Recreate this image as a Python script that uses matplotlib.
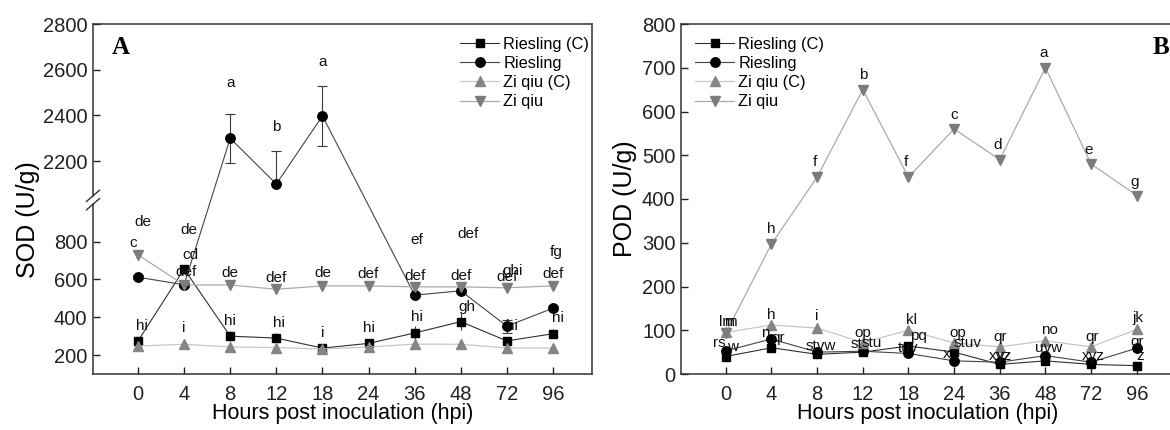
import numpy as np
import matplotlib
matplotlib.use("Agg")
import matplotlib.pyplot as plt
from matplotlib.lines import Line2D

plt.rcParams['font.family'] = ['Liberation Sans', 'DejaVu Sans']

# ---------------- data ----------------
hpi = ['0', '4', '8', '12', '18', '24', '36', '48', '72', '96']
series_names = ['Riesling (C)', 'Riesling', 'Zi qiu (C)', 'Zi qiu']

# Panel A: SOD (U/g)
sod_riesling_c = [275, 655, 300, 290, 237, 262, 317, 377, 275, 313]
sod_riesling = [612, 572, 2300, 2100, 2398, None, 517, 540, 353, 448]
sod_ziqiu_c = [248, 257, 243, 240, 232, 243, 258, 257, 238, 237]
sod_ziqiu = [730, 571, 571, 548, 566, 566, 561, 561, 556, 566]
sod_riesling_c_err = [15, 10, 25, 25, 5, 10, 35, 45, 20, 25]
sod_riesling_err_lo = [10, 10, 107, 0, 132, None, 10, 10, 35, 10]
sod_riesling_err_hi = [10, 10, 107, 143, 132, None, 10, 10, 35, 10]

# Panel B: POD (U/g)
pod_riesling_c = [40, 60, 45, 50, 64, 50, 22, 30, 22, 19]
pod_riesling = [53, 80, 50, 52, 47, 30, 27, 42, 27, 59]
pod_ziqiu_c = [95, 112, 105, 72, 100, 71, 62, 76, 62, 102]
pod_ziqiu = [93, 297, 450, 650, 450, 560, 490, 700, 480, 408]

# significance letters: (time index, value, text, x offset)
sod_letters = [
    (0, 905, 'de', 0.1), (0, 795, 'c', -0.1), (0, 355, 'hi', 0.09),
    (1, 863, 'de', 0.1), (1, 730, 'cd', 0.13), (1, 640, 'def', 0.05), (1, 343, 'i', 0.0),
    (2, 2543, 'a', 0.0), (2, 635, 'de', 0.0), (2, 380, 'hi', 0.0),
    (3, 2348, 'b', 0.0), (3, 608, 'def', 0.0), (3, 370, 'hi', 0.05),
    (4, 2635, 'a', 0.0), (4, 635, 'de', 0.0), (4, 317, 'i', 0.0),
    (5, 630, 'def', 0.0), (5, 343, 'hi', 0.0),
    (6, 810, 'ef', 0.05), (6, 619, 'def', 0.0), (6, 401, 'hi', 0.05),
    (7, 838, 'def', 0.15), (7, 619, 'def', 0.0), (7, 455, 'gh', 0.13),
    (8, 645, 'ghi', 0.13), (8, 614, 'def', 0.0), (8, 354, 'hi', 0.1),
    (9, 747, 'fg', 0.07), (9, 630, 'def', 0.0), (9, 396, 'hi', 0.1),
]
pod_letters = [
    (0, 119, 'lm', 0.03), (0, 119, 'm', 0.1), (0, 70, 'rs', -0.15), (0, 62, 'w', 0.15),
    (1, 331, 'h', 0.0), (1, 135, 'h', 0.0), (1, 93, 'n', -0.13), (1, 82, 'qr', 0.15),
    (2, 484, 'f', -0.05), (2, 133, 'i', 0.0), (2, 64, 'stvw', 0.08),
    (3, 683, 'b', 0.0), (3, 93, 'op', 0.0), (3, 68, 'st', -0.13), (3, 71, 'stu', 0.2),
    (4, 484, 'f', -0.05), (4, 123, 'kl', 0.07), (4, 87, 'pq', 0.22), (4, 60, 'tuv', 0.0),
    (5, 592, 'c', 0.0), (5, 93, 'op', 0.09), (5, 70, 'stuv', 0.3), (5, 45, 'x', -0.17),
    (6, 523, 'd', -0.05), (6, 84, 'qr', 0.0), (6, 41, 'xyz', 0.0), (6, 41, 'yz', 0.1),
    (7, 734, 'a', -0.05), (7, 101, 'no', 0.09), (7, 59, 'uvw', 0.07),
    (8, 512, 'e', -0.05), (8, 84, 'qr', 0.02), (8, 41, 'xyz', 0.05),
    (9, 439, 'g', -0.05), (9, 128, 'jk', 0.02), (9, 74, 'qr', 0.0), (9, 41, 'z', 0.07),
]

# ---------------- styles ----------------
styles = [
    dict(marker='s', color='#303030', mfc='black', mec='black', ms=6.2, lw=0.8),
    dict(marker='o', color='#454545', mfc='black', mec='black', ms=6.8, lw=0.8),
    dict(marker='^', color='#c6c6c6', mfc='#858585', mec='#858585', ms=7.5, lw=0.9),
    dict(marker='v', color='#ababab', mfc='#7c7c7c', mec='#7c7c7c', ms=7.5, lw=0.9),
]

# broken y axis for panel A (single axes, piecewise linear scale)
LO_MIN, LO_MAX, HI_MIN, HI_MAX = 100.0, 1020.0, 2030.0, 2800.0
H, EPS = 0.497, 1e-4


def fwd(y):
    y = np.asarray(y, dtype=float)
    lo = (y - LO_MIN) / (LO_MAX - LO_MIN) * H
    mid = H + (y - LO_MAX) / (HI_MIN - LO_MAX) * EPS
    hi = H + EPS + (y - HI_MIN) / (HI_MAX - HI_MIN) * (1 - H - EPS)
    return np.where(y <= LO_MAX, lo, np.where(y < HI_MIN, mid, hi))


def inv(t):
    t = np.asarray(t, dtype=float)
    lo = LO_MIN + t / H * (LO_MAX - LO_MIN)
    mid = LO_MAX + (t - H) / EPS * (HI_MIN - LO_MAX)
    hi = HI_MIN + (t - H - EPS) / (1 - H - EPS) * (HI_MAX - HI_MIN)
    return np.where(t <= H, lo, np.where(t < H + EPS, mid, hi))


W, HT = 1170, 430
fig = plt.figure(figsize=(W / 100, HT / 100), dpi=100)
ax1 = fig.add_axes([93 / W, 56 / HT, 499 / W, 350 / HT])
ax2 = fig.add_axes([681 / W, 56 / HT, 493 / W, 350 / HT])

x = np.arange(len(hpi))


def valid(vals):
    idx = [i for i, v in enumerate(vals) if v is not None]
    return np.array(idx), np.array([vals[i] for i in idx], dtype=float)


# ---------- Panel A ----------
ax1.set_yscale('function', functions=(fwd, inv))
ax1.set_ylim(LO_MIN, HI_MAX)
ax1.set_xlim(-0.976, 9.846)

ecol = '#3a3a3a'
ax1.errorbar(x, sod_riesling_c, yerr=sod_riesling_c_err, fmt='none', ecolor=ecol,
             elinewidth=0.8, capsize=0, zorder=2)
xi, lo_e = valid(sod_riesling_err_lo)
_, hi_e = valid(sod_riesling_err_hi)
_, ry = valid(sod_riesling)
ax1.errorbar(xi, ry, yerr=[lo_e, hi_e], fmt='none', ecolor=ecol,
             elinewidth=0.8, capsize=3.5, capthick=0.8, zorder=2)

sod_all = [sod_riesling_c, sod_riesling, sod_ziqiu_c, sod_ziqiu]
for name, vals, st in zip(series_names, sod_all, styles):
    xv, yv = valid(vals)
    ax1.plot(xv, yv, label=name, zorder=3, **st)

for i, v, t, dx in sod_letters:
    ax1.text(i + dx, v, t, ha='center', va='center', fontsize=11, color='#111111', zorder=4)

ax1.set_yticks([200, 400, 600, 800, 2200, 2400, 2600, 2800])

# ---------- Panel B ----------
ax2.set_ylim(0, 800)
ax2.set_xlim(-0.98, -0.98 + 493 / 45.67)
pod_all = [pod_riesling_c, pod_riesling, pod_ziqiu_c, pod_ziqiu]
for name, vals, st in zip(series_names, pod_all, styles):
    ax2.plot(x, vals, label=name, zorder=3, **st)
for i, v, t, dx in pod_letters:
    ax2.text(i + dx, v, t, ha='center', va='center', fontsize=11, color='#111111', zorder=4)
ax2.set_yticks(np.arange(0, 801, 100))

# ---------- common styling ----------
for ax in (ax1, ax2):
    ax.set_xticks(x)
    ax.set_xticklabels(hpi)
    ax.tick_params(axis='both', direction='in', length=5, width=1.0, labelsize=14.5,
                   colors='#222222')
    ax.tick_params(axis='x', pad=8)
    ax.tick_params(axis='y', pad=4)
    for sp in ax.spines.values():
        sp.set_linewidth(1.1)
        sp.set_color('#333333')
    ax.set_xlabel('Hours post inoculation (hpi)', fontsize=15.5, labelpad=-1)

ax2.spines['right'].set_visible(False)

ax1.set_ylabel('SOD (U/g)', fontsize=18)
ax1.yaxis.set_label_coords(-0.106, 0.44)
ax2.set_ylabel('POD (U/g)', fontsize=18)
ax2.yaxis.set_label_coords(-0.09, 0.5)

# break mark on left spine of panel A
ax1.spines['left'].set_visible(False)
gap_lo, gap_hi = H - 0.012, H + 0.012
ax1.add_line(Line2D([0, 0], [0, gap_lo], transform=ax1.transAxes, color='#333333',
                    lw=1.1, clip_on=False))
ax1.add_line(Line2D([0, 0], [gap_hi, 1], transform=ax1.transAxes, color='#333333',
                    lw=1.1, clip_on=False))
for off in (-0.012, 0.012):
    ax1.add_line(Line2D([-0.013, 0.013], [H + off - 0.016, H + off + 0.016],
                        transform=ax1.transAxes, color='#333333', lw=1.0, clip_on=False))

# panel letters
ax1.text(0.038, 0.934, 'A', transform=ax1.transAxes, fontsize=18, fontweight='bold',
         family='Liberation Serif', ha='left', va='center')
ax2.text(0.973, 0.934, 'B', transform=ax2.transAxes, fontsize=18, fontweight='bold',
         family='Liberation Serif', ha='center', va='center')

# legends
leg_kw = dict(frameon=False, fontsize=11.8, handlelength=2.4, handletextpad=0.25,
              labelspacing=0.25, borderpad=0, borderaxespad=0, loc='upper left')
ax1.legend(bbox_to_anchor=((460 - 93) / 499, (374 - 37) / 350), **leg_kw)
ax2.legend(bbox_to_anchor=((695 - 681) / 493, (374 - 37) / 350), **leg_kw)

fig.savefig('out.png', dpi=100)
